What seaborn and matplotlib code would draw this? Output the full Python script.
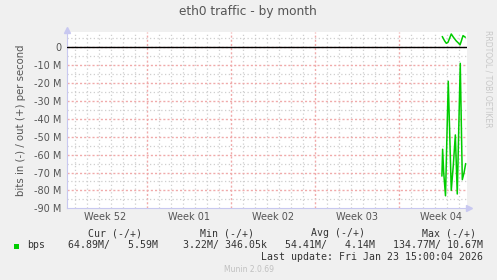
import matplotlib
matplotlib.use("Agg")
import matplotlib.pyplot as plt
import seaborn as sns
import pandas as pd
import numpy as np

# ---- data (days since Mon Dec 22 2025 00:00; values in M bits/s) ----
in_days = [31.60, 31.66, 31.75, 31.90, 32.13, 32.38, 32.55, 32.72, 32.88, 33.13, 33.30, 33.45, 33.58]
in_vals = [-72, -57, -70, -83, -19, -80, -66, -49, -82, -9, -74, -70, -65]
out_days = [31.63, 31.83, 31.97, 32.11, 32.38, 32.58, 32.80, 33.00, 33.11, 33.22, 33.36, 33.55]
out_vals = [6.0, 3.5, 2.2, 2.8, 7.4, 5.4, 3.5, 2.2, 1.3, 3.5, 6.5, 5.6]

week_labels = ["Week 52", "Week 01", "Week 02", "Week 03", "Week 04"]
week_centers = [3.5, 10.5, 17.5, 24.5, 31.5]
week_bounds = [7, 14, 21, 28]
y_ticks = [0, -10, -20, -30, -40, -50, -60, -70, -80, -90]
y_tick_labels = ["0"] + [f"{v} M" for v in y_ticks[1:]]

headers = ["Cur (-/+)", "Min (-/+)", "Avg (-/+)", "Max (-/+)"]
values = ["64.89M/   5.59M", "3.22M/ 346.05k", "54.41M/   4.14M", "134.77M/ 10.67M"]

sns.set_theme(style="white")
plt.rcParams['font.family'] = ['DejaVu Sans']

W, H = 497, 280
fig = plt.figure(figsize=(W / 100, H / 100), dpi=100)
fig.patch.set_facecolor("#F0F0F0")

left, right, top, bottom = 67, 467, 31.5, 208.3
ax = fig.add_axes([left / W, 1 - bottom / H, (right - left) / W, (bottom - top) / H])
ax.set_facecolor("white")

x0 = 7 - (146.7 - left) / 12
x1 = 7 + (right - 146.7) / 12
ax.set_xlim(x0, x1)
ax.set_ylim(-90, 8.8)

RED = "#f0aaaa"
GRAY = "#cfcfcf"
# grid
for d in range(1, 34):
    if d in week_bounds:
        ax.axvline(d, color=RED, lw=1.0, ls=(0, (1.5, 1.5)), zorder=1)
    else:
        ax.axvline(d, color=GRAY, lw=0.9, ls=(0, (1, 2)), zorder=1)
for v in range(-85, 10, 5):
    if v % 10 == 0:
        ax.axhline(v, color=RED, lw=1.0, ls=(0, (1.5, 1.5)), zorder=1)
    else:
        ax.axhline(v, color=GRAY, lw=0.9, ls=(0, (1, 2)), zorder=1)

df_in = pd.DataFrame({"day": in_days, "val": in_vals})
df_out = pd.DataFrame({"day": out_days, "val": out_vals})
sns.lineplot(data=df_in, x="day", y="val", ax=ax, color="#00CC00", lw=1.1, zorder=3)
sns.lineplot(data=df_out, x="day", y="val", ax=ax, color="#00CC00", lw=1.1, zorder=3)
ax.axhline(0, color="black", lw=1.0, zorder=4)

ax.set_xticks(week_centers)
ax.set_xticklabels(week_labels)
ax.set_yticks(y_ticks)
ax.set_yticklabels(y_tick_labels)
ax.tick_params(axis="both", length=0, labelsize=7, labelcolor="#555555", pad=4)
ax.tick_params(axis="x", pad=3)
ax.set_xlabel("")
ax.set_ylabel("bits in (-) / out (+) per second", fontsize=7.3, color="#555555", labelpad=6)

for s in ["top", "right"]:
    ax.spines[s].set_visible(False)
for s in ["left", "bottom"]:
    ax.spines[s].set_color("#c8c8f0")
    ax.spines[s].set_linewidth(0.8)
ax.plot([x1 + 0.15], [-90], marker=">", color="#c8c8f0", ms=4, clip_on=False, zorder=5)
ax.plot([x0], [8.8 + 0.6], marker="^", color="#c8c8f0", ms=4, clip_on=False, zorder=5)

def ft(x, y, s, **kw):
    fig.text(x / W, 1 - y / H, s, **kw)

ft(248, 12, "eth0 traffic - by month", ha="center", va="center", fontsize=8.7, color="#555555")
ft(488, 30, "RRDTOOL / TOBI OETIKER", ha="center", va="top", rotation=270, fontsize=5.5, color="#c8c8c8")

mono = dict(family="DejaVu Sans Mono", fontsize=7.1, color="#333333", va="center")
hdr_right = [142, 254, 365, 476]
val_right = [158, 267, 375, 483]
for h, xr in zip(headers, hdr_right):
    ft(xr, 233, h, ha="right", **mono)
for v, xr in zip(values, val_right):
    ft(xr, 245, v, ha="right", **mono)
fig.patches.append(plt.Rectangle((14 / W, 1 - 248.5 / H), 5 / W, 5 / H, transform=fig.transFigure,
                                 facecolor="#00CC00", edgecolor="none"))
ft(27, 245, "bps", ha="left", **mono)
ft(483, 257, "Last update: Fri Jan 23 15:00:04 2026", ha="right", **mono)
ft(249, 270, "Munin 2.0.69", ha="center", va="center", fontsize=5.5, color="#c0c0c0")

fig.savefig("out.png", dpi=100, facecolor=fig.get_facecolor())
